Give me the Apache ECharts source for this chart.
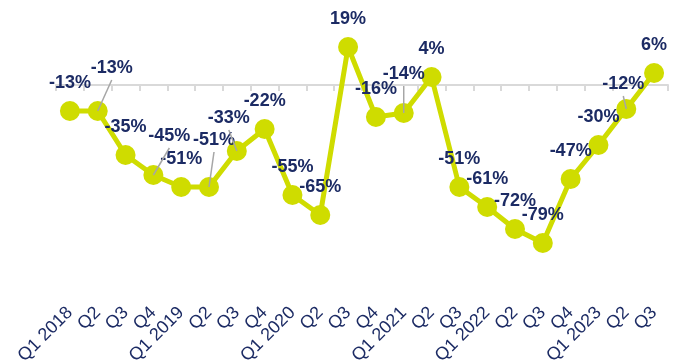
<!DOCTYPE html>
<html>
<head>
<meta charset="utf-8">
<script src="https://cdn.jsdelivr.net/npm/echarts@6/dist/echarts.min.js"></script>
<style>
  html, body { margin: 0; padding: 0; background: #ffffff; }
  #chart { width: 678px; height: 362px; }
</style>
</head>
<body>
<div id="chart"></div>
<script>
// Quarterly change, in percent
const categories = ['Q1 2018', 'Q2', 'Q3', 'Q4', 'Q1 2019', 'Q2', 'Q3', 'Q4', 'Q1 2020', 'Q2', 'Q3', 'Q4',
  'Q1 2021', 'Q2', 'Q3', 'Q1 2022', 'Q2', 'Q3', 'Q4', 'Q1 2023', 'Q2', 'Q3'];
const changePct = [-13, -13, -35, -45, -51, -51, -33, -22, -55, -65, 19, -16,
  -14, 4, -51, -61, -72, -79, -47, -30, -12, 6];

// Label nudges (px) for crowded points; these get a grey leader line back to the marker
const labelNudge = {
  1: [14, -15],
  3: [16, -11],
  5: [5, -19],
  6: [-8, -5],
  12: [0, -11],
  20: [-3, 3]
};

const NAVY = '#1c2b64';
const LIME = '#cfdc00';
const FONT = '"Liberation Sans", Arial, Helvetica, sans-serif';

const leaderData = Object.keys(labelNudge).map(k => [Number(k), changePct[Number(k)]]);

const chart = echarts.init(document.getElementById('chart'), null, { renderer: 'canvas' });
chart.setOption({
  animation: false,
  backgroundColor: '#ffffff',
  grid: { left: 56, right: 10, top: 25, bottom: 77, containLabel: false, outerBoundsMode: 'none' },
  xAxis: [
    {
      type: 'category',
      data: categories,
      boundaryGap: true,
      axisLine: { onZero: true, lineStyle: { color: '#d9d9d9', width: 2 } },
      axisTick: { show: true, interval: 0, length: 6, lineStyle: { color: '#d9d9d9', width: 2 } },
      axisLabel: { show: false, interval: 0 },
      splitLine: { show: false }
    },
    {
      type: 'category',
      data: categories,
      position: 'bottom',
      boundaryGap: true,
      axisLine: { show: false, onZero: false },
      axisTick: { show: false },
      axisLabel: {
        interval: 0,
        rotate: 45,
        margin: 25,
        color: NAVY,
        fontSize: 18,
        fontFamily: FONT
      },
      splitLine: { show: false }
    }
  ],
  yAxis: {
    type: 'value',
    min: -100,
    max: 30,
    show: false,
    splitLine: { show: false }
  },
  series: [
    {
      type: 'line',
      data: changePct,
      xAxisIndex: 0,
      symbol: 'circle',
      symbolSize: 20,
      showSymbol: true,
      showAllSymbol: true,
      z: 2,
      lineStyle: { color: LIME, width: 5 },
      itemStyle: { color: LIME },
      label: {
        show: true,
        position: 'top',
        distance: 9,
        formatter: p => p.value + '%',
        color: NAVY,
        fontSize: 18,
        fontWeight: 'bold',
        fontFamily: FONT
      },
      labelLayout: params => {
        const n = labelNudge[params.dataIndex];
        return n ? { dx: n[0], dy: n[1], hideOverlap: false } : { hideOverlap: false };
      }
    },
    {
      type: 'custom',
      xAxisIndex: 0,
      z: 3,
      silent: true,
      data: leaderData,
      renderItem: (params, api) => {
        const idx = api.value(0);
        const p = api.coord([idx, api.value(1)]);
        const n = labelNudge[idx];
        return {
          type: 'line',
          shape: { x1: p[0], y1: p[1], x2: p[0] + n[0], y2: p[1] - 16 + n[1] },
          style: { stroke: '#a6a6a6', lineWidth: 1.5 }
        };
      }
    }
  ]
});
</script>
</body>
</html>
